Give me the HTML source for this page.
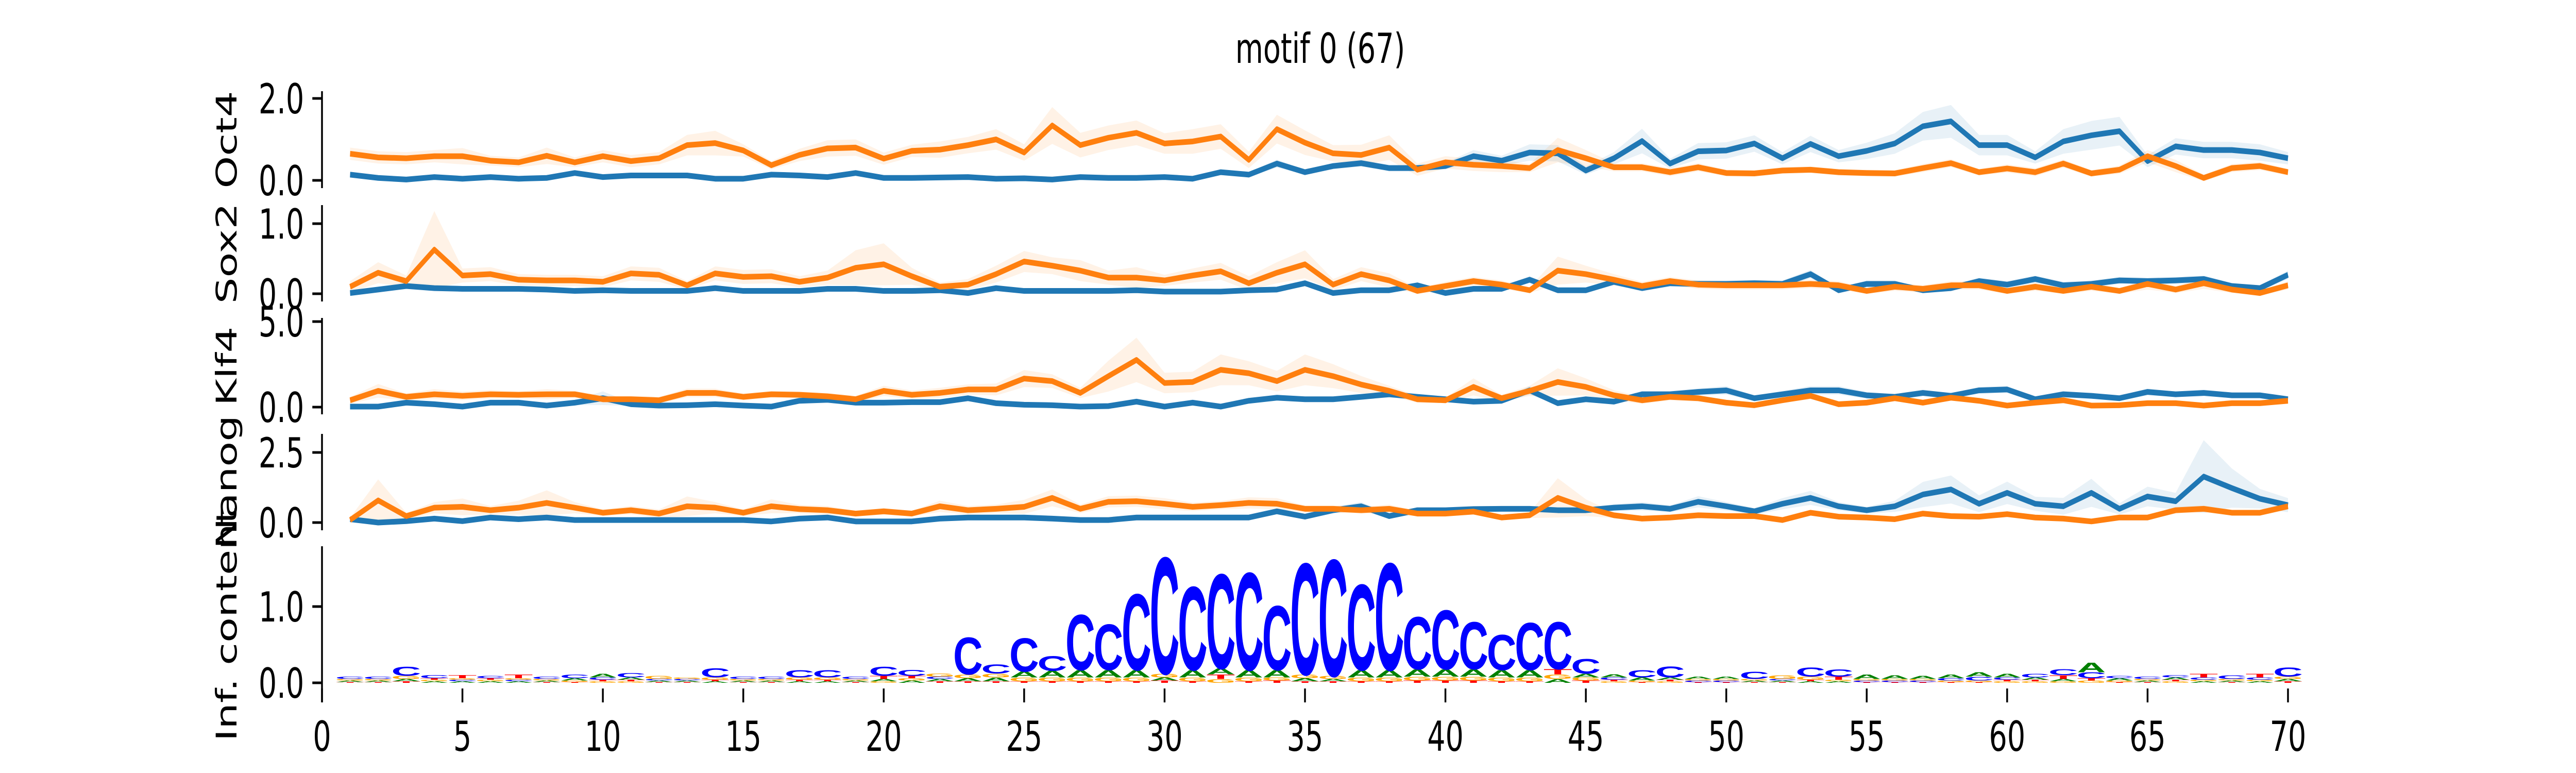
<!DOCTYPE html>
<html><head><meta charset="utf-8">
<style>
html,body{margin:0;padding:0;background:#fff;width:100%;height:100%;overflow:hidden;}
svg{display:block;width:100vw;height:100vh;font-family:"DejaVu Sans","Liberation Sans",sans-serif;}
</style></head>
<body>
<svg id="chart" viewBox="0 0 7200 1500" preserveAspectRatio="none" xmlns="http://www.w3.org/2000/svg" overflow="hidden">
<rect width="7200" height="1500" fill="#fff"/>
<text x="3690" y="122" font-size="80" text-anchor="middle" fill="#000">motif 0 (67)</text>
</svg>
<script>
// ---- data ----
const positions = [1,2,3,4,5,6,7,8,9,10,11,12,13,14,15,16,17,18,19,20,21,22,23,24,25,26,27,28,29,30,31,32,33,34,35,36,37,38,39,40,41,42,43,44,45,46,47,48,49,50,51,52,53,54,55,56,57,58,59,60,61,62,63,64,65,66,67,68,69,70];
const xTicks = [0,5,10,15,20,25,30,35,40,45,50,55,60,65,70];
const panelNames = ["Oct4","Sox2","Klf4","Nanog"];
const oct4Ticks = [0,2];
const sox2Ticks = [0,1];
const klf4Ticks = [0,5];
const nanogTicks = [0,2.5];
const logoTicks = [0,1];

const oct4Orange = [0.65,0.56,0.54,0.59,0.59,0.48,0.44,0.6,0.44,0.59,0.47,0.54,0.86,0.91,0.73,0.37,0.62,0.78,0.8,0.53,0.72,0.75,0.86,1.0,0.68,1.34,0.86,1.04,1.16,0.9,0.95,1.07,0.5,1.25,0.92,0.66,0.62,0.8,0.26,0.44,0.38,0.35,0.3,0.74,0.54,0.32,0.32,0.2,0.32,0.18,0.17,0.24,0.26,0.2,0.18,0.17,0.3,0.42,0.2,0.29,0.2,0.41,0.17,0.26,0.59,0.35,0.06,0.3,0.35,0.2];
const oct4Blue = [0.14,0.06,0.02,0.08,0.04,0.08,0.04,0.06,0.18,0.08,0.12,0.12,0.12,0.04,0.04,0.14,0.12,0.08,0.18,0.06,0.06,0.07,0.08,0.04,0.05,0.02,0.08,0.06,0.06,0.08,0.04,0.2,0.14,0.41,0.2,0.35,0.42,0.3,0.3,0.35,0.59,0.48,0.68,0.66,0.24,0.54,0.96,0.41,0.71,0.73,0.9,0.54,0.89,0.59,0.72,0.9,1.32,1.44,0.86,0.86,0.56,0.95,1.1,1.2,0.47,0.83,0.74,0.74,0.68,0.54];
const oct4OrangeErr = [0.15,0.15,0.15,0.15,0.2,0.12,0.12,0.2,0.12,0.15,0.15,0.15,0.25,0.3,0.15,0.1,0.15,0.2,0.2,0.15,0.15,0.2,0.2,0.25,0.2,0.45,0.3,0.3,0.3,0.25,0.3,0.3,0.2,0.35,0.3,0.2,0.25,0.3,0.15,0.15,0.15,0.15,0.1,0.3,0.2,0.1,0.1,0.1,0.1,0.08,0.08,0.08,0.08,0.08,0.08,0.08,0.1,0.1,0.08,0.1,0.1,0.1,0.08,0.1,0.15,0.15,0.08,0.1,0.1,0.08];
const oct4BlueErr = [0.03,0.03,0.03,0.03,0.03,0.03,0.03,0.03,0.03,0.03,0.03,0.03,0.03,0.03,0.03,0.03,0.03,0.03,0.03,0.03,0.03,0.03,0.03,0.03,0.03,0.03,0.03,0.03,0.03,0.03,0.03,0.05,0.05,0.1,0.05,0.08,0.08,0.08,0.08,0.08,0.15,0.12,0.2,0.2,0.1,0.15,0.3,0.12,0.2,0.2,0.2,0.15,0.2,0.15,0.2,0.25,0.35,0.4,0.25,0.25,0.15,0.3,0.35,0.35,0.15,0.2,0.2,0.2,0.2,0.15];

const sox2Orange = [0.1,0.3,0.18,0.63,0.26,0.28,0.2,0.19,0.19,0.17,0.29,0.27,0.12,0.29,0.24,0.25,0.17,0.23,0.37,0.42,0.25,0.1,0.13,0.28,0.46,0.4,0.33,0.23,0.23,0.19,0.26,0.32,0.15,0.3,0.42,0.13,0.28,0.19,0.04,0.11,0.18,0.13,0.05,0.33,0.28,0.2,0.11,0.18,0.13,0.12,0.12,0.12,0.14,0.12,0.04,0.1,0.07,0.12,0.12,0.04,0.1,0.04,0.1,0.04,0.14,0.06,0.15,0.06,0.01,0.12];
const sox2Blue = [0.01,0.06,0.11,0.08,0.07,0.07,0.07,0.06,0.04,0.05,0.04,0.04,0.04,0.08,0.04,0.04,0.04,0.07,0.07,0.04,0.04,0.05,0.01,0.08,0.04,0.04,0.04,0.04,0.05,0.03,0.03,0.03,0.05,0.06,0.15,0.01,0.05,0.05,0.12,0.01,0.07,0.07,0.2,0.05,0.05,0.17,0.08,0.15,0.14,0.14,0.15,0.14,0.28,0.05,0.14,0.14,0.05,0.08,0.18,0.13,0.21,0.12,0.14,0.19,0.18,0.19,0.21,0.11,0.08,0.27];
const sox2OrangeErr = [0.08,0.15,0.08,0.55,0.1,0.1,0.08,0.08,0.08,0.08,0.1,0.1,0.06,0.1,0.1,0.1,0.08,0.1,0.25,0.3,0.12,0.06,0.08,0.12,0.15,0.12,0.15,0.1,0.15,0.08,0.1,0.12,0.1,0.15,0.2,0.08,0.1,0.1,0.04,0.06,0.06,0.06,0.04,0.2,0.12,0.08,0.06,0.06,0.06,0.06,0.06,0.06,0.06,0.06,0.04,0.06,0.05,0.06,0.06,0.04,0.06,0.04,0.06,0.04,0.08,0.05,0.08,0.05,0.03,0.06];
const sox2BlueErr = [0.02,0.02,0.03,0.03,0.02,0.02,0.02,0.02,0.02,0.02,0.02,0.02,0.02,0.02,0.02,0.02,0.02,0.02,0.02,0.02,0.02,0.02,0.02,0.02,0.02,0.02,0.02,0.02,0.02,0.02,0.02,0.02,0.02,0.03,0.04,0.02,0.02,0.02,0.04,0.02,0.03,0.03,0.05,0.03,0.03,0.05,0.04,0.05,0.05,0.05,0.05,0.05,0.06,0.03,0.05,0.05,0.03,0.04,0.05,0.05,0.05,0.05,0.05,0.05,0.05,0.05,0.05,0.04,0.04,0.06];

const klf4Orange = [0.4,0.95,0.6,0.75,0.66,0.75,0.72,0.75,0.75,0.46,0.46,0.4,0.83,0.83,0.6,0.75,0.72,0.63,0.46,0.95,0.72,0.83,1.03,1.03,1.67,1.52,0.83,1.81,2.76,1.41,1.47,2.18,1.98,1.52,2.18,1.81,1.32,0.95,0.46,0.4,1.18,0.52,0.95,1.47,1.18,0.69,0.4,0.6,0.52,0.26,0.11,0.4,0.66,0.17,0.26,0.52,0.26,0.55,0.37,0.09,0.26,0.4,0.09,0.11,0.23,0.23,0.09,0.23,0.23,0.37];
const klf4Blue = [0.03,0.03,0.26,0.17,0.03,0.26,0.26,0.09,0.26,0.52,0.17,0.09,0.11,0.17,0.09,0.03,0.37,0.43,0.26,0.26,0.29,0.29,0.52,0.23,0.14,0.11,0.03,0.06,0.32,0.03,0.26,0.03,0.37,0.55,0.46,0.46,0.6,0.75,0.6,0.46,0.32,0.37,0.98,0.23,0.46,0.32,0.75,0.75,0.89,0.98,0.52,0.75,0.98,0.98,0.69,0.6,0.83,0.66,0.98,1.03,0.46,0.75,0.66,0.52,0.89,0.75,0.83,0.69,0.69,0.46];
const klf4OrangeErr = [0.2,0.4,0.2,0.3,0.25,0.25,0.2,0.3,0.2,0.2,0.2,0.2,0.25,0.25,0.2,0.2,0.2,0.2,0.2,0.3,0.25,0.3,0.3,0.35,0.5,0.4,0.3,0.9,1.3,0.6,0.6,0.9,0.7,0.6,0.9,0.7,0.5,0.3,0.2,0.15,0.5,0.2,0.3,0.8,0.5,0.3,0.2,0.2,0.2,0.1,0.1,0.15,0.2,0.1,0.1,0.15,0.1,0.15,0.1,0.1,0.1,0.1,0.1,0.1,0.1,0.1,0.1,0.1,0.1,0.1];
const klf4BlueErr = [0.05,0.05,0.1,0.08,0.05,0.1,0.1,0.05,0.15,0.4,0.1,0.05,0.05,0.08,0.05,0.05,0.15,0.2,0.1,0.1,0.1,0.1,0.15,0.1,0.08,0.05,0.05,0.05,0.1,0.05,0.1,0.05,0.1,0.15,0.15,0.15,0.15,0.2,0.15,0.15,0.1,0.1,0.25,0.1,0.15,0.1,0.2,0.2,0.2,0.25,0.15,0.2,0.25,0.25,0.2,0.15,0.2,0.15,0.2,0.2,0.15,0.2,0.15,0.15,0.2,0.15,0.2,0.15,0.15,0.15];

const nanogOrange = [0.09,0.79,0.23,0.53,0.56,0.44,0.53,0.7,0.53,0.35,0.44,0.32,0.58,0.53,0.35,0.58,0.48,0.44,0.32,0.4,0.32,0.58,0.44,0.49,0.56,0.88,0.49,0.74,0.76,0.67,0.56,0.62,0.7,0.67,0.49,0.49,0.44,0.49,0.32,0.32,0.39,0.18,0.26,0.88,0.53,0.26,0.14,0.18,0.26,0.23,0.23,0.09,0.35,0.21,0.18,0.12,0.32,0.23,0.21,0.3,0.18,0.14,0.04,0.18,0.18,0.44,0.49,0.35,0.35,0.58];
const nanogBlue = [0.12,0,0.05,0.14,0.05,0.18,0.12,0.18,0.09,0.09,0.09,0.09,0.09,0.09,0.09,0.04,0.14,0.18,0.04,0.04,0.04,0.14,0.18,0.18,0.18,0.14,0.09,0.09,0.18,0.18,0.18,0.18,0.18,0.4,0.21,0.44,0.58,0.23,0.44,0.44,0.48,0.49,0.49,0.44,0.44,0.53,0.58,0.49,0.74,0.58,0.4,0.67,0.88,0.58,0.44,0.58,1.0,1.18,0.67,1.06,0.67,0.58,1.06,0.49,0.93,0.76,1.64,1.23,0.85,0.62];
const nanogOrangeErr = [0.08,0.75,0.12,0.2,0.3,0.15,0.25,0.45,0.2,0.12,0.15,0.15,0.35,0.2,0.12,0.25,0.15,0.15,0.1,0.12,0.1,0.2,0.15,0.15,0.25,0.3,0.15,0.2,0.2,0.2,0.15,0.15,0.2,0.2,0.12,0.12,0.12,0.15,0.1,0.1,0.1,0.08,0.1,0.7,0.3,0.1,0.08,0.08,0.08,0.08,0.08,0.06,0.1,0.08,0.08,0.06,0.1,0.08,0.08,0.1,0.08,0.06,0.05,0.08,0.08,0.12,0.12,0.1,0.1,0.12];
const nanogBlueErr = [0.03,0.03,0.03,0.03,0.03,0.03,0.03,0.03,0.03,0.03,0.03,0.03,0.03,0.03,0.03,0.03,0.03,0.03,0.03,0.03,0.03,0.03,0.03,0.03,0.03,0.03,0.03,0.03,0.03,0.03,0.03,0.03,0.03,0.1,0.08,0.12,0.15,0.08,0.1,0.1,0.1,0.1,0.1,0.1,0.1,0.12,0.15,0.12,0.2,0.15,0.12,0.2,0.25,0.15,0.12,0.2,0.45,0.5,0.3,0.4,0.25,0.3,0.5,0.2,0.35,0.3,1.3,0.7,0.35,0.25];

const logoC = [0.03,0.03,0.12,0.04,0.02,0.03,0.02,0.03,0.05,0.03,0.06,0.02,0.02,0.12,0.03,0.03,0.1,0.1,0.03,0.12,0.08,0.03,0.5,0.12,0.45,0.2,0.75,0.62,1.03,1.58,1.13,1.28,1.32,0.87,1.51,1.58,1.16,1.45,0.71,0.8,0.64,0.48,0.64,0.64,0.2,0.03,0.1,0.15,0.02,0.02,0.1,0.02,0.12,0.1,0.02,0.02,0.02,0.03,0.05,0.03,0.05,0.08,0.08,0.03,0.03,0.03,0.03,0.05,0.03,0.12];
const logoA = [0.02,0.02,0.03,0.02,0.02,0.02,0.02,0.02,0.03,0.05,0.03,0.02,0.02,0.02,0.02,0.02,0.02,0.02,0.02,0.03,0.03,0.03,0.04,0.05,0.08,0.09,0.1,0.1,0.1,0.04,0.1,0.08,0.1,0.1,0.04,0.03,0.1,0.1,0.1,0.1,0.1,0.1,0.1,0.05,0.05,0.04,0.04,0.03,0.03,0.03,0.02,0.02,0.02,0.02,0.06,0.05,0.04,0.05,0.06,0.05,0.03,0.03,0.13,0.03,0.02,0.03,0.02,0.02,0.02,0.03];
const logoG = [0.02,0.02,0.04,0.02,0.02,0.02,0.02,0.02,0.02,0.02,0.02,0.04,0.02,0.03,0.02,0.02,0.03,0.03,0.02,0.02,0.03,0.04,0.05,0.05,0.05,0.05,0.05,0.05,0.05,0.05,0.05,0.05,0.05,0.04,0.05,0.04,0.05,0.05,0.05,0.05,0.05,0.05,0.05,0.06,0.04,0.02,0.02,0.02,0.02,0.02,0.02,0.05,0.04,0.02,0.02,0.02,0.02,0.02,0.02,0.02,0.02,0.02,0.03,0.02,0.02,0.02,0.02,0.02,0.02,0.03];
const logoT = [0.01,0.01,0.02,0.02,0.04,0.02,0.05,0.01,0.01,0.02,0.02,0.01,0.01,0.02,0.01,0.01,0.02,0.02,0.01,0.04,0.03,0.02,0.02,0.02,0.02,0.02,0.02,0.02,0.02,0.03,0.02,0.06,0.02,0.03,0.02,0.02,0.02,0.02,0.03,0.03,0.03,0.02,0.02,0.07,0.03,0.02,0.01,0.02,0.01,0.01,0.01,0.01,0.02,0.04,0.01,0.01,0.01,0.01,0.01,0.02,0.02,0.05,0.03,0.01,0.01,0.02,0.05,0.01,0.05,0.02];

// ---- layout ----
const NS = "http://www.w3.org/2000/svg";
const svg = document.getElementById('chart');
const X0 = 900, PXU = 78.5;
function xScale(v){ return X0 + v*PXU; }
function mk(tag, attrs, parent){ const e=document.createElementNS(NS,tag); for(const k in attrs) e.setAttribute(k,attrs[k]); (parent||svg).appendChild(e); return e; }

const panels = [
  {label:"Oct4", top:177, bottom:365, zero:350, ppu:79.5, ticks:oct4Ticks, orange:oct4Orange, blue:oct4Blue, oe:oct4OrangeErr, be:oct4BlueErr},
  {label:"Sox2", top:398, bottom:585, zero:570, ppu:136, ticks:sox2Ticks, orange:sox2Orange, blue:sox2Blue, oe:sox2OrangeErr, be:sox2BlueErr},
  {label:"Klf4", top:617, bottom:804, zero:790, ppu:33.2, ticks:klf4Ticks, orange:klf4Orange, blue:klf4Blue, oe:klf4OrangeErr, be:klf4BlueErr},
  {label:"Nanog", top:842, bottom:1029, zero:1014, ppu:54.4, ticks:nanogTicks, orange:nanogOrange, blue:nanogBlue, oe:nanogOrangeErr, be:nanogBlueErr}
];

function yAxis(p, name){
  const g = mk('g',{});
  
  
  const sp = mk('line',{x1:X0,x2:X0,y1:p.top,y2:p.bottom,stroke:'#000','stroke-width':5},g);
  
  
  p.ticks.forEach(t=>{
    const y = p.zero - t*p.ppu;
    const tk = mk('line',{x1:X0-27,x2:X0,y1:y,y2:y,stroke:'#000','stroke-width':5},g);
    
    
    const tl = mk('text',{x:X0-50,y:y+29,'font-size':80,'text-anchor':'end',fill:'#000'},g);
    tl.textContent = t.toFixed(1);
    
    
  });
  const my = (p.top+p.bottom)/2;
  const lab = mk('text',{x:0,y:0,'font-size':80,'text-anchor':'middle',fill:'#000',transform:`translate(661,${my}) rotate(-90)`},g);
  lab.textContent = p.label;
  
  
}

function band(vals, errs, p, color, name){
  let up=[], dn=[];
  positions.forEach((x,i)=>{ up.push(xScale(x)+','+(p.zero-(vals[i]+errs[i])*p.ppu)); dn.push(xScale(x)+','+(p.zero-Math.max(vals[i]-errs[i],-0.1)*p.ppu)); });
  const pg = mk('polygon',{points:up.concat(dn.reverse()).join(' '),fill:color,'fill-opacity':0.1,stroke:'none'});
  
  
}
function line(vals, p, color, name){
  const pts = positions.map((x,i)=>xScale(x)+','+(p.zero-vals[i]*p.ppu)).join(' ');
  const pl = mk('polyline',{points:pts,fill:'none',stroke:color,'stroke-width':11,'stroke-linejoin':'round'});
  
  
}

panels.forEach(p=>{
  const n = p.label.toLowerCase();
  yAxis(p, n);
  band(p.blue, p.be, p, '#1f77b4', n+'-blue-band');
  band(p.orange, p.oe, p, '#ff7f0e', n+'-orange-band');
  line(p.blue, p, '#1f77b4', n+'-blue-line');
  line(p.orange, p, '#ff7f0e', n+'-orange-line');
});

// ---- logo panel ----
const logo = {label:"Inf. content", top:1060, bottom:1363, zero:1325, ppu:148, ticks:logoTicks};
yAxis(logo, 'logo');
const letterColors = {A:'#008000', C:'#0000ff', G:'#ffa500', T:'#ff0000'};
const letterW = {A:68, C:66, G:70, T:58};
positions.forEach((x,i)=>{
  const stack = [['A',logoA[i]],['C',logoC[i]],['G',logoG[i]],['T',logoT[i]]].sort((a,b)=>a[1]-b[1]);
  let base = logo.zero;
  stack.forEach(([L,h])=>{
    const hp = h*logo.ppu;
    if(hp<=0) return;
    const sx = 76/letterW[L];
    const sy = hp/72;
    const t = mk('text',{x:0,y:0,'font-size':100,'font-weight':'bold','text-anchor':'middle',fill:letterColors[L],
      'font-family':'"Liberation Sans",sans-serif',transform:`translate(${xScale(x)},${base}) scale(${sx},${sy})`});
    t.textContent = L;
    
    
    base -= hp;
  });
});

// ---- x axis ----
const xg = mk('g',{});


xTicks.forEach(t=>{
  const x = xScale(t);
  const tk = mk('line',{x1:x,x2:x,y1:1336,y2:1363,stroke:'#000','stroke-width':5},xg);
  
  
  const tl = mk('text',{x:x,y:1457,'font-size':80,'text-anchor':'middle',fill:'#000'},xg);
  tl.textContent = String(t);
  
  
});
</script>
</body></html>
